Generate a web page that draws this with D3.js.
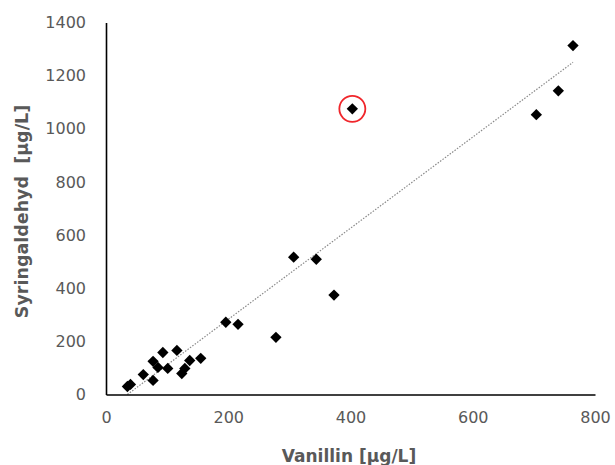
<!DOCTYPE html>
<html><head><meta charset="utf-8">
<script src="https://cdn.jsdelivr.net/npm/d3@7"></script>
<style>body{margin:0;background:#fff}svg{display:block}</style>
</head><body>
<svg id="c" width="615" height="465"></svg>
<script>
const vanillin = [35, 40, 61, 77, 77, 93, 116, 85, 101, 124, 129, 137, 155, 196, 216, 278, 307, 344, 373, 403, 704, 740, 764];
const syringaldehyd = [30, 38, 75, 53, 125, 158, 166, 102, 98, 79, 98, 128, 136, 272, 264, 215, 517, 509, 374, 1075, 1053, 1143, 1313];
const highlightIndex = [19];
const trendX = [35, 764];
const trendSlope = 1.72, trendIntercept = -64;
const xTicks = [0, 200, 400, 600, 800];
const yTicks = [0, 200, 400, 600, 800, 1000, 1200, 1400];

const FONT = "DejaVu Sans, Verdana, sans-serif";
const svg = d3.select("#c");
const x = d3.scaleLinear().domain([0, 800]).range([106, 595]);
const y = d3.scaleLinear().domain([0, 1400]).range([394.5, 22.5]);

// trendline
svg.append("line")
  .attr("x1", x(trendX[0])).attr("y1", y(Math.max(0, trendSlope*trendX[0]+trendIntercept)))
  .attr("x2", x(trendX[1])).attr("y2", y(trendSlope*trendX[1]+trendIntercept))
  .attr("stroke", "#8a8a8a").attr("stroke-width", 1.2).attr("stroke-dasharray", "1.5,1.5");

// axes
const xAxis = d3.axisBottom(x).tickValues(xTicks).tickFormat(d3.format("d")).tickSize(0).tickPadding(17);
const gx = svg.append("g").attr("transform", `translate(0,${y(0)})`).call(xAxis);
const yAxis = d3.axisLeft(y).tickValues(yTicks).tickFormat(d3.format("d")).tickSize(0).tickPadding(20);
const gy = svg.append("g").attr("transform", `translate(${x(0)},0)`).call(yAxis);
[gx, gy].forEach(g => {
  g.select(".domain").attr("stroke", "#000").attr("stroke-width", 1.6);
  g.selectAll("text").attr("fill", "#595959").attr("font-family", FONT).attr("font-size", 16);
});

// points
const pts = vanillin.map((v, i) => [v, syringaldehyd[i]]);
svg.append("g").selectAll("path").data(pts).join("path")
  .attr("transform", d => `translate(${x(d[0])},${y(d[1])}) rotate(45)`)
  .attr("d", d3.symbol().type(d3.symbolSquare).size(64))
  .attr("fill", "#000");

// highlight circle
svg.append("g").selectAll("circle").data(highlightIndex).join("circle")
  .attr("cx", i => x(vanillin[i])).attr("cy", i => y(syringaldehyd[i]))
  .attr("r", 13).attr("fill", "none").attr("stroke", "#f0262b").attr("stroke-width", 1.8);

// titles
svg.append("text").attr("x", 349).attr("y", 462).attr("text-anchor", "middle")
  .attr("font-family", FONT).attr("font-size", 17).attr("font-weight", "bold")
  .attr("fill", "#595959").text("Vanillin [µg/L]");
svg.append("text").attr("transform", "translate(28,211.5) rotate(-90)").attr("text-anchor", "middle")
  .attr("font-family", FONT).attr("font-size", 17.5).attr("font-weight", "bold")
  .attr("fill", "#595959").style("white-space", "pre").text("Syringaldehyd  [µg/L]");
</script>
</body></html>
